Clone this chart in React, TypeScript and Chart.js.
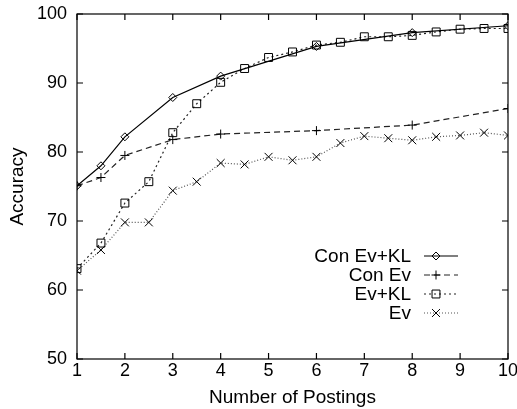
import React, { useEffect, useRef } from "react";
import { Chart, registerables } from "chart.js";

Chart.register(...registerables);

const xTicks = [1, 2, 3, 4, 5, 6, 7, 8, 9, 10];
const yTicks = [50, 60, 70, 80, 90, 100];

const conEvKlX = [1, 1.5, 2, 3, 4, 6, 8, 10];
const conEvKlY = [75.1, 78.0, 82.2, 87.9, 91.0, 95.3, 97.3, 98.3];

const conEvX = [1, 1.5, 2, 3, 4, 6, 8, 10];
const conEvY = [75.1, 76.3, 79.5, 81.8, 82.6, 83.1, 83.9, 86.3];

const evKlX = [1, 1.5, 2, 2.5, 3, 3.5, 4, 4.5, 5, 5.5, 6, 6.5, 7, 7.5, 8, 8.5, 9, 9.5, 10];
const evKlY = [63.1, 66.8, 72.6, 75.7, 82.8, 87.0, 90.1, 92.1, 93.7, 94.5, 95.5, 95.9, 96.7, 96.7, 96.9, 97.4, 97.8, 97.9, 97.9];

const evX = [1, 1.5, 2, 2.5, 3, 3.5, 4, 4.5, 5, 5.5, 6, 6.5, 7, 7.5, 8, 8.5, 9, 9.5, 10];
const evY = [62.8, 65.8, 69.8, 69.8, 74.4, 75.7, 78.4, 78.2, 79.3, 78.8, 79.3, 81.3, 82.3, 82.0, 81.7, 82.2, 82.4, 82.8, 82.4];

const seriesNames = ["Con Ev+KL", "Con Ev", "Ev+KL", "Ev"];

const TICK_FONT = '18px "Liberation Sans", Arial, sans-serif';
const TEXT_FONT = '19px "Liberation Sans", Arial, sans-serif';

const toPts = (xs: number[], ys: number[]) => xs.map((x, i) => ({ x, y: ys[i] }));

type Style = {
  color: string;
  dash: number[];
  point: string;
  radius: number;
};

const styles: Style[] = [
  { color: "#000000", dash: [], point: "rectRot", radius: 4 },
  { color: "#222222", dash: [6, 4], point: "cross", radius: 4.5 },
  { color: "#222222", dash: [2, 3], point: "rect", radius: 5.6 },
  { color: "#555555", dash: [1, 2], point: "crossRot", radius: 5.6 },
];

function drawMarker(ctx: CanvasRenderingContext2D, kind: string, x: number, y: number, r: number) {
  ctx.beginPath();
  if (kind === "rectRot") {
    ctx.moveTo(x, y - r);
    ctx.lineTo(x + r, y);
    ctx.lineTo(x, y + r);
    ctx.lineTo(x - r, y);
    ctx.closePath();
  } else if (kind === "cross") {
    ctx.moveTo(x - r, y);
    ctx.lineTo(x + r, y);
    ctx.moveTo(x, y - r);
    ctx.lineTo(x, y + r);
  } else if (kind === "rect") {
    const s = r * Math.SQRT1_2;
    ctx.rect(x - s, y - s, 2 * s, 2 * s);
  } else if (kind === "crossRot") {
    const s = r * Math.SQRT1_2;
    ctx.moveTo(x - s, y - s);
    ctx.lineTo(x + s, y + s);
    ctx.moveTo(x + s, y - s);
    ctx.lineTo(x - s, y + s);
  }
  ctx.stroke();
}

const framePlugin = {
  id: "frameTicks",
  afterDatasetsDraw(chart: any) {
    const ctx: CanvasRenderingContext2D = chart.ctx;
    const { left, right, top, bottom } = chart.chartArea;
    const xs = chart.scales.x;
    const ys = chart.scales.y;
    ctx.save();
    ctx.strokeStyle = "#000";
    ctx.lineWidth = 1.2;
    ctx.setLineDash([]);
    ctx.strokeRect(left, top, right - left, bottom - top);
    const tl = 6;
    ctx.beginPath();
    xTicks.forEach((v) => {
      const px = xs.getPixelForValue(v);
      ctx.moveTo(px, bottom);
      ctx.lineTo(px, bottom - tl);
      ctx.moveTo(px, top);
      ctx.lineTo(px, top + tl);
    });
    yTicks.forEach((v) => {
      const py = ys.getPixelForValue(v);
      ctx.moveTo(left, py);
      ctx.lineTo(left + tl, py);
      ctx.moveTo(right, py);
      ctx.lineTo(right - tl, py);
    });
    ctx.stroke();

    ctx.fillStyle = "#000";
    ctx.font = TICK_FONT;
    ctx.textAlign = "right";
    ctx.textBaseline = "middle";
    yTicks.forEach((v) => {
      ctx.fillText(String(v), left - 10, ys.getPixelForValue(v) + 0.5);
    });
    ctx.textAlign = "center";
    xTicks.forEach((v) => {
      ctx.fillText(String(v), xs.getPixelForValue(v), bottom + 12);
    });
    ctx.font = TEXT_FONT;
    ctx.textBaseline = "alphabetic";
    ctx.fillText("Number of Postings", (left + right) / 2, bottom + 44);

    ctx.save();
    ctx.translate(23, (top + bottom) / 2);
    ctx.rotate(-Math.PI / 2);
    ctx.textAlign = "center";
    ctx.textBaseline = "alphabetic";
    ctx.fillText("Accuracy", 0, 0);
    ctx.restore();

    // legend
    const textRight = 411;
    const lineStart = 424;
    const lineEnd = 458;
    const markX = 436;
    const rowY0 = 256;
    const rowStep = 19;
    seriesNames.forEach((name, i) => {
      const st = styles[i];
      const y = rowY0 + i * rowStep;
      ctx.fillStyle = "#000";
      ctx.font = TEXT_FONT;
      ctx.textAlign = "right";
      ctx.textBaseline = "middle";
      ctx.fillText(name, textRight, y + 1);
      ctx.strokeStyle = st.color;
      ctx.lineWidth = 1.2;
      ctx.setLineDash(st.dash);
      ctx.beginPath();
      ctx.moveTo(lineStart, y);
      ctx.lineTo(lineEnd, y);
      ctx.stroke();
      ctx.setLineDash([]);
      ctx.strokeStyle = "#000";
      ctx.lineWidth = 1;
      drawMarker(ctx, st.point, markX, y, st.radius);
    });
    ctx.restore();
  },
};

export default function App() {
  const ref = useRef<HTMLCanvasElement | null>(null);
  useEffect(() => {
    document.body.style.margin = "0";
    const canvas = ref.current;
    if (!canvas) return;
    const all = [
      toPts(conEvKlX, conEvKlY),
      toPts(conEvX, conEvY),
      toPts(evKlX, evKlY),
      toPts(evX, evY),
    ];
    const chart = new Chart(canvas, {
      type: "line",
      data: {
        datasets: all.map((d, i) => ({
          label: seriesNames[i],
          data: d,
          borderColor: styles[i].color,
          borderWidth: 1.2,
          borderDash: styles[i].dash,
          pointStyle: styles[i].point as any,
          pointRadius: styles[i].radius,
          pointBorderColor: "#000",
          pointBackgroundColor: "rgba(0,0,0,0)",
          pointBorderWidth: 1,
          tension: 0,
          fill: false,
        })),
      },
      options: {
        animation: false,
        responsive: false,
        maintainAspectRatio: false,
        layout: { padding: { left: 77, right: 9, top: 14, bottom: 50 } },
        plugins: {
          legend: { display: false },
          tooltip: { enabled: false },
        },
        scales: {
          x: { type: "linear", min: 1, max: 10, display: false },
          y: { type: "linear", min: 50, max: 100, display: false },
        },
      },
      plugins: [framePlugin],
    });
    return () => chart.destroy();
  }, []);
  return (
    <div style={{ position: "absolute", left: 0, top: 0, width: 517, height: 409, background: "#fff" }}>
      <canvas ref={ref} width={517} height={409} style={{ width: 517, height: 409 }} />
    </div>
  );
}
